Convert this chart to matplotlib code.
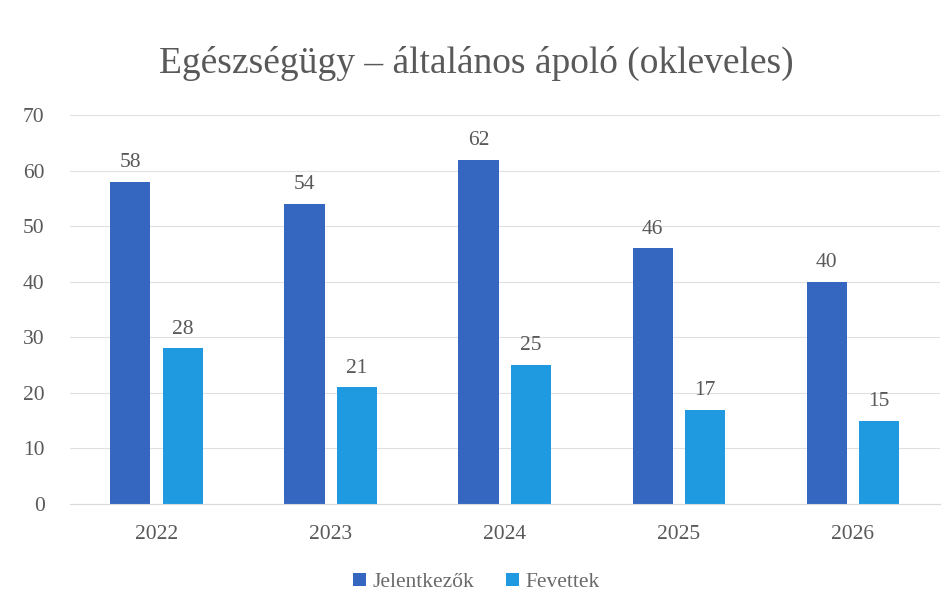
import matplotlib.pyplot as plt
import numpy as np

# Data
years = ["2022", "2023", "2024", "2025", "2026"]
jelentkezok = [58, 54, 62, 46, 40]
fevettek = [28, 21, 25, 17, 15]

plt.rcParams['font.family'] = ['Liberation Serif', 'DejaVu Serif']

fig = plt.figure(figsize=(9.53, 6.13), dpi=100)
ax = fig.add_axes([0.073, 0.178, 0.913, 0.634])

x = np.arange(len(years))
w = 0.23
gap = 0.07
dark = "#3566c0"
light = "#1f9ae0"
text_col = "#595959"

b1 = ax.bar(x - (w + gap) / 2, jelentkezok, w, color=dark, label="Jelentkezők")
b2 = ax.bar(x + (w + gap) / 2, fevettek, w, color=light, label="Fevettek")

# Value labels
for bars in (b1, b2):
    for rect in bars:
        ax.annotate(f"{rect.get_height():.0f}",
                    (rect.get_x() + rect.get_width() / 2, rect.get_height()),
                    xytext=(0, 7), textcoords="offset points",
                    ha="center", va="bottom", fontsize=15.5, color=text_col)

ax.set_ylim(0, 70)
ax.set_yticks(range(0, 71, 10))
ax.set_xlim(-0.5, len(years) - 0.5)
ax.set_xticks(x)
ax.set_xticklabels(years)
ax.tick_params(axis="both", length=0, labelsize=15.5, colors=text_col, pad=15)
ax.tick_params(axis="y", pad=18)

ax.grid(axis="y", color="#e0e0e0", linewidth=0.8)
ax.set_axisbelow(True)
for s in ["top", "right", "left"]:
    ax.spines[s].set_visible(False)
ax.spines["bottom"].set_color("#d9d9d9")

fig.suptitle("Egészségügy – általános ápoló (okleveles)", y=0.925,
             fontsize=27, color=text_col)

fig.legend(loc="center", bbox_to_anchor=(0.5, 0.05), ncol=2, frameon=False,
           fontsize=15.5, labelcolor="#6a6a6a", handlelength=0.6, handleheight=0.6,
           handletextpad=0.3, columnspacing=1.5)

fig.savefig("out.png", dpi=100)
